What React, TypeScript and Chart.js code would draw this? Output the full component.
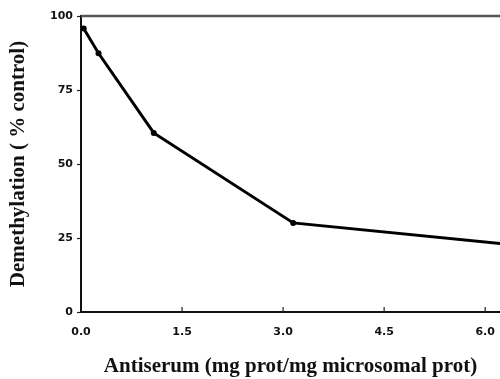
import React, { useEffect, useRef } from "react";
import { Chart, registerables } from "chart.js";

Chart.register(...registerables);

const antiserum = [0.04, 0.26, 1.08, 3.15, 6.3];
const demethylation = [95.8, 87.4, 60.5, 30.1, 23.0];
const xTickValues = [0, 1.5, 3.0, 4.5, 6.0];
const yTickValues = [0, 25, 50, 75, 100];
const xTitle = "Antiserum (mg prot/mg microsomal prot)";
const yTitle = "Demethylation ( % control)";

const tickFont = { family: "'DejaVu Sans', sans-serif", size: 11, weight: "bold" as const };
const titleFont = { family: "'Liberation Serif', 'Times New Roman', serif", size: 21, weight: "bold" as const };

const framePlugin = {
  id: "frame",
  afterDraw(chart: any) {
    const { ctx, chartArea, scales } = chart;
    ctx.save();
    ctx.strokeStyle = "#555";
    ctx.lineWidth = 2.5;
    ctx.beginPath();
    ctx.moveTo(chartArea.left, chartArea.top);
    ctx.lineTo(chartArea.right, chartArea.top);
    ctx.stroke();
    ctx.strokeStyle = "#222";
    ctx.lineWidth = 1.2;
    for (const v of xTickValues) {
      if (v === 0) continue;
      const px = scales.x.getPixelForValue(v);
      ctx.beginPath();
      ctx.moveTo(px, chartArea.bottom);
      ctx.lineTo(px, chartArea.bottom - 5);
      ctx.stroke();
    }
    ctx.restore();
  },
};

export default function App() {
  const ref = useRef<HTMLCanvasElement>(null);
  useEffect(() => {
    if (!ref.current) return;
    const chart = new Chart(ref.current, {
      type: "line",
      data: {
        datasets: [
          {
            data: antiserum.map((x, i) => ({ x, y: demethylation[i] })),
            borderColor: "#000",
            backgroundColor: "#000",
            borderWidth: 3,
            pointRadius: 3,
            pointBackgroundColor: "#000",
            pointBorderWidth: 0,
            tension: 0,
          },
        ],
      },
      options: {
        animation: false,
        responsive: false,
        layout: { autoPadding: false, padding: { top: 16, right: 0, left: 0, bottom: 0 } },
        plugins: { legend: { display: false }, tooltip: { enabled: false } },
        scales: {
          x: {
            type: "linear",
            min: 0,
            max: 6.22,
            afterBuildTicks: (s: any) => {
              s.ticks = xTickValues.map((v) => ({ value: v }));
            },
            afterFit: (s: any) => {
              s.height = 67;
              s.paddingRight = 0;
              s.paddingLeft = 0;
            },
            ticks: {
              font: tickFont,
              color: "#111",
              padding: 14,
              maxRotation: 0,
              callback: (v: any) => Number(v).toFixed(1),
            },
            grid: { display: true, drawOnChartArea: false, drawTicks: false },
            border: { display: true, color: "#111", width: 2 },
            title: {
              display: true,
              text: xTitle,
              font: titleFont,
              color: "#111",
              padding: { top: 0, bottom: 0 },
            },
          },
          y: {
            type: "linear",
            min: 0,
            max: 100,
            afterBuildTicks: (s: any) => {
              s.ticks = yTickValues.map((v) => ({ value: v }));
            },
            afterFit: (s: any) => {
              s.width = 81;
            },
            ticks: { font: tickFont, color: "#111", padding: 4 },
            grid: { display: true, drawOnChartArea: false, drawTicks: true, tickLength: 4, color: "#222", tickWidth: 1.2 },
            border: { display: true, color: "#111", width: 2 },
            title: {
              display: true,
              text: yTitle,
              font: titleFont,
              color: "#111",
              padding: { top: 6, bottom: 6 },
            },
          },
        },
      },
      plugins: [framePlugin],
    });
    return () => chart.destroy();
  }, []);
  return (
    <canvas
      ref={ref}
      width={500}
      height={379}
      style={{ position: "absolute", left: 0, top: 0, display: "block", background: "#fff" }}
    />
  );
}
